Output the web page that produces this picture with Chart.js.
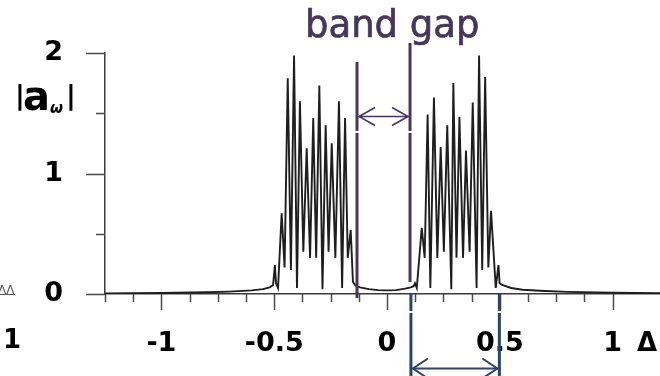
<!doctype html>
<html lang="en">
<head>
  <meta charset="utf-8">
  <title>band gap</title>
  <script src="https://cdn.jsdelivr.net/npm/chart.js@4.4.1/dist/chart.umd.min.js"></script>
  <style>
    html, body { margin: 0; padding: 0; background: #fff; }
  </style>
</head>
<body>
  <canvas id="myChart" width="660" height="376"></canvas>
  <script>
// spectrum |a_w| against detuning delta (left tail, lower band, gap, upper band, right tail)
var delta = [
  -1.25, -1.0, -0.8, -0.7, -0.6, -0.55, -0.52, -0.505,
  -0.497, -0.492, -0.483, -0.467, -0.454, -0.440, -0.426, -0.412, -0.399,
  -0.386, -0.371, -0.356, -0.341, -0.327, -0.314, -0.300, -0.286,
  -0.272, -0.259, -0.245, -0.229, -0.213, -0.199, -0.186, -0.174,
  -0.161, -0.151, -0.14, -0.12, -0.08, -0.04, 0, 0.04, 0.08, 0.105, 0.118,
  0.124, 0.132, 0.154, 0.167, 0.180, 0.192, 0.208, 0.223, 0.238, 0.252,
  0.267, 0.285, 0.294, 0.308, 0.321, 0.337, 0.350, 0.366, 0.380, 0.397,
  0.408, 0.422, 0.435, 0.449, 0.461, 0.482, 0.494, 0.499, 0.51, 0.55,
  0.6, 0.7, 0.8, 1.0, 1.21
];
var amp = [
  0.004, 0.008, 0.014, 0.02, 0.03, 0.04, 0.055, 0.075,
  0.24, 0.09, 0.05, 0.67, 0.22, 1.79, 0.20, 1.98, 0.05,
  1.60, 0.35, 1.21, 0.30, 1.46, 0.30, 1.73, 0.04,
  1.40, 0.35, 1.25, 0.30, 1.60, 0.05, 1.46, 0.30,
  0.53, 0.10, 0.07, 0.055, 0.04, 0.032, 0.03, 0.032, 0.045, 0.055, 0.065,
  0.09, 0.05, 0.55, 0.30, 1.49, 0.05, 1.63, 0.30, 1.22, 0.35,
  1.40, 0.04, 1.75, 0.30, 1.47, 0.30, 1.19, 0.35, 1.59, 0.05,
  1.98, 0.20, 1.80, 0.22, 0.69, 0.05, 0.24, 0.09, 0.075, 0.05,
  0.035, 0.025, 0.018, 0.01, 0.006
];

var xLabelled = [-1, -0.5, 0, 0.5, 1];
var yLabelled = [0, 1, 2];

// gap edges (purple markers) and upper band edges (bottom bracket)
var gapEdges = [-0.133, 0.102];
var gapTops = [1.925, 2.083];
var gapBottoms = [-0.033, 0.10];
var bandEdges = [0.106, 0.498];

var purple = "#45375c";
var navy = "#2b4467";
var tickFont = { family: "DejaVu Sans", weight: "bold", size: 27 };

function hasLabel(list, v) {
  for (var i = 0; i < list.length; i++) {
    if (Math.abs(list[i] - v) < 1e-6) return true;
  }
  return false;
}

function arrowHead(ctx, x, y, dir, dx, dy) {
  ctx.beginPath();
  ctx.moveTo(x + dir * dx, y - dy);
  ctx.lineTo(x, y);
  ctx.lineTo(x + dir * dx, y + dy);
  ctx.stroke();
}

// tick marks: long for labelled values, short otherwise
var tickMarks = {
  id: "tickMarks",
  afterDraw: function(chart) {
    var ctx = chart.ctx;
    var xs = chart.scales.x, ys = chart.scales.y;
    var area = chart.chartArea;
    ctx.save();
    ctx.strokeStyle = "#4a4a4a";
    ctx.lineWidth = 1.5;
    xs.ticks.forEach(function(t) {
      var q = t.value / 0.125;
      if (Math.abs(q - Math.round(q)) > 1e-6) return;
      var px = Math.round(xs.getPixelForValue(t.value)) + 0.5;
      var len = hasLabel(xLabelled, t.value) ? 16 : 8;
      ctx.beginPath();
      ctx.moveTo(px, area.bottom);
      ctx.lineTo(px, area.bottom + len);
      ctx.stroke();
    });
    ys.ticks.forEach(function(t) {
      var py = Math.round(ys.getPixelForValue(t.value)) + 0.5;
      var len = hasLabel(yLabelled, t.value) ? 19 : 9;
      ctx.beginPath();
      ctx.moveTo(area.left - len, py);
      ctx.lineTo(area.left, py);
      ctx.stroke();
    });
    ctx.restore();
  }
};

// band gap markers, arrows and text
var annotations = {
  id: "annotations",
  afterDraw: function(chart) {
    var ctx = chart.ctx;
    var xs = chart.scales.x, ys = chart.scales.y;
    ctx.save();

    // gap edge lines
    ctx.strokeStyle = purple;
    ctx.lineWidth = 3;
    for (var i = 0; i < gapEdges.length; i++) {
      var gx = xs.getPixelForValue(gapEdges[i]);
      ctx.beginPath();
      ctx.moveTo(gx, ys.getPixelForValue(gapTops[i]));
      ctx.lineTo(gx, ys.getPixelForValue(gapBottoms[i]));
      ctx.stroke();
      ctx.fillStyle = "#fff";
      ctx.fillRect(gx - 2, ys.getPixelForValue(1.345) - 1, 4, 2);
    }
    var ay = Math.round(ys.getPixelForValue(1.48)) + 0.5;
    var gl = xs.getPixelForValue(gapEdges[0]) + 2;
    var gr = xs.getPixelForValue(gapEdges[1]) - 2;
    ctx.lineWidth = 1.6;
    ctx.beginPath();
    ctx.moveTo(gl, ay);
    ctx.lineTo(gr, ay);
    ctx.stroke();
    arrowHead(ctx, gl, ay, 1, 16, 9);
    arrowHead(ctx, gr, ay, -1, 16, 9);

    // upper band bracket below the axis
    ctx.strokeStyle = navy;
    ctx.lineWidth = 3;
    var y0 = ys.getPixelForValue(0);
    var yEnd = ys.getPixelForValue(-0.68);
    for (var j = 0; j < bandEdges.length; j++) {
      var bx = xs.getPixelForValue(bandEdges[j]);
      ctx.beginPath();
      ctx.moveTo(bx, y0);
      ctx.lineTo(bx, yEnd);
      ctx.stroke();
      ctx.fillStyle = "#fff";
      ctx.fillRect(bx - 2, ys.getPixelForValue(-0.149) - 1, 4, 2);
    }
    var by = Math.round(ys.getPixelForValue(-0.614)) + 0.5;
    var bl = xs.getPixelForValue(bandEdges[0]) + 2;
    var br = xs.getPixelForValue(bandEdges[1]) - 2;
    ctx.lineWidth = 2;
    ctx.beginPath();
    ctx.moveTo(bl, by);
    ctx.lineTo(br, by);
    ctx.stroke();
    arrowHead(ctx, bl, by, 1, 15, 10);
    arrowHead(ctx, br, by, -1, 15, 10);

    // title
    ctx.fillStyle = purple;
    ctx.strokeStyle = purple;
    ctx.lineWidth = 0.7;
    ctx.font = "37px 'DejaVu Sans'";
    ctx.textAlign = "left";
    ctx.textBaseline = "alphabetic";
    ctx.fillText("band gap", 305, 37);
    ctx.strokeText("band gap", 305, 37);

    // y axis name |a_w|
    ctx.fillStyle = "#000";
    ctx.font = "bold 27px 'DejaVu Sans'";
    ctx.fillText("|", 15, 104);
    ctx.fillText("|", 66, 104);
    ctx.font = "bold 40px 'DejaVu Sans'";
    ctx.fillText("a", 23, 110);
    ctx.font = "italic bold 15px 'DejaVu Sans'";
    ctx.fillText("\u03c9", 50, 113);

    // x axis name
    ctx.font = "bold 26px 'DejaVu Sans'";
    ctx.textBaseline = "middle";
    ctx.fillText("\u0394", 637, 344);

    // neighbouring panel edge
    ctx.fillText("1", 3, 341);
    ctx.font = "12px 'DejaVu Sans'";
    ctx.fillStyle = "#555";
    ctx.textBaseline = "alphabetic";
    ctx.fillText("\u039b\u039b", -2, 294);
    ctx.fillRect(0, 294, 15, 1);

    ctx.restore();
  }
};

var points = delta.map(function(d, i) { return { x: d, y: amp[i] }; });

var ctx = document.getElementById("myChart").getContext("2d");
var chart = new Chart(ctx, {
  type: "line",
  data: {
    datasets: [{
      data: points,
      borderColor: "#1e1e1e",
      borderWidth: 1.9,
      pointRadius: 0,
      tension: 0,
      fill: false
    }]
  },
  options: {
    responsive: false,
    animation: false,
    layout: { padding: { top: 53, right: 0, left: 0, bottom: 0 } },
    plugins: { legend: { display: false }, tooltip: { enabled: false } },
    scales: {
      x: {
        type: "linear",
        min: -1.25,
        max: 1.21,
        afterFit: function(s) {
          s.height = 82;
          s.paddingLeft = 0;
          s.paddingRight = 0;
        },
        grid: { display: false, drawTicks: false },
        border: { display: true, color: "#3a3a3a", width: 1.5 },
        ticks: {
          stepSize: 0.125,
          autoSkip: false,
          maxRotation: 0,
          padding: 34,
          color: "#000",
          font: tickFont,
          callback: function(v) { return hasLabel(xLabelled, v) ? String(Math.round(v * 10) / 10) : ""; }
        }
      },
      y: {
        min: 0,
        max: 2,
        afterFit: function(s) {
          s.width = 105;
          s.paddingTop = 0;
          s.paddingBottom = 0;
        },
        grid: { display: false, drawTicks: false },
        border: { display: true, color: "#3a3a3a", width: 1.5 },
        ticks: {
          stepSize: 0.5,
          padding: 42,
          color: "#000",
          font: tickFont,
          callback: function(v) { return hasLabel(yLabelled, v) ? String(v) : ""; }
        }
      }
    }
  },
  plugins: [tickMarks, annotations]
});
  </script>
</body>
</html>
